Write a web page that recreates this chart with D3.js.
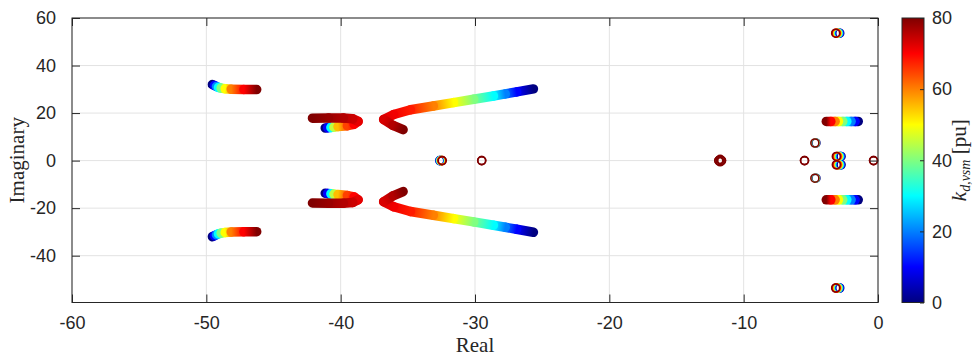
<!DOCTYPE html>
<html><head><meta charset="utf-8">
<script src="https://cdn.jsdelivr.net/npm/d3@7"></script>
<style>
html,body{margin:0;padding:0;background:#fff;}
svg{display:block;}
.tick text,.cbar text{font-family:"Liberation Sans",Arial,sans-serif;font-size:18px;fill:#262626;}
.lbl{font-family:"Liberation Serif","Times New Roman",serif;font-size:21px;fill:#262626;}
</style></head><body>
<svg id="chart" width="975" height="361"></svg>
<script>
// axis ticks
const xTicks = [-60, -50, -40, -30, -20, -10, 0];
const yTicks = [-40, -20, 0, 20, 40, 60];
const kTicks = [0, 20, 40, 60, 80];

// root-locus branches in the upper half-plane: [k, real, imag]
const branchFar = [
  [0, -49.55, 32.0], [10, -49.4, 31.6], [20, -49.25, 31.2], [30, -49.1, 30.8],
  [40, -48.9, 30.5], [50, -48.6, 30.25], [60, -48.15, 30.05], [70, -47.2, 29.95], [80, -46.25, 29.9]
];
const branchLoop = [
  [0, -41.15, 13.75], [10, -40.97, 13.8], [30, -40.73, 13.95], [45, -40.5, 14.1],
  [55, -40.2, 14.3], [65, -39.5, 14.7], [70, -39.0, 15.3], [72, -38.7, 16.5],
  [74, -39.1, 17.6], [76, -39.8, 17.9], [78, -40.9, 17.9], [80, -42.1, 17.85]
];
const branchLong = [
  [0, -25.65, 30.15], [10, -26.9, 28.9], [20, -27.75, 28.05], [30, -28.63, 27.2],
  [40, -30.1, 25.8], [50, -31.6, 24.4], [60, -33.1, 23.0], [68, -34.8, 21.4],
  [71, -36.05, 19.4], [73, -36.8, 17.3], [76, -36.1, 14.8], [80, -35.35, 13.0]
];
const branchNear = [
  [0, -1.47, 16.5], [10, -1.7, 16.5], [20, -2.0, 16.5], [30, -2.32, 16.5], [40, -2.62, 16.5],
  [50, -2.94, 16.5], [60, -3.19, 16.5], [70, -3.51, 16.5], [80, -3.85, 16.5]
];

// slowly moving poles, one marker per gain step: [k, real, imag]
const polesHigh = [
  [0, -2.85, 53.6], [10, -2.89, 53.6], [20, -2.93, 53.6], [30, -2.97, 53.6], [40, -3.0, 53.6],
  [50, -3.04, 53.6], [60, -3.08, 53.6], [70, -3.12, 53.6], [80, -3.15, 53.6]
];
const polesLow = [
  [0, -2.75, 1.75], [10, -2.8, 1.75], [20, -2.84, 1.75], [30, -2.88, 1.75], [40, -2.93, 1.75],
  [50, -2.97, 1.75], [60, -3.01, 1.75], [70, -3.06, 1.75], [80, -3.1, 1.75]
];
const polesReal = [
  [0, -32.62, 0], [10, -32.6, 0], [20, -32.58, 0], [30, -32.55, 0], [40, -32.53, 0],
  [50, -32.5, 0], [60, -32.48, 0], [70, -32.46, 0], [80, -32.44, 0]
];
const polesSide = [
  [0, -4.62, 7.4], [40, -4.66, 7.4], [80, -4.7, 7.4]
];
// poles that do not move over the gain range: [real, imag]
const polesFixed = [
  [-29.5, 0], [-11.85, 0], [-11.65, 0], [-11.75, 0.5], [-5.47, 0], [-0.33, 0]
];

const kMax = 80;
const m = {left: 72, right: 878, top: 18, bottom: 302.5};
const cb = {x0: 902, x1: 924};

const svg = d3.select("#chart");
const x = d3.scaleLinear().domain([-60, 0]).range([m.left, m.right]);
const y = d3.scaleLinear().domain([-59.7, 60]).range([m.bottom, m.top]);
const kScale = d3.scaleLinear().domain([0, kMax]).range([m.bottom, m.top]);
const fmt = d => String(d);

// MATLAB-style jet colormap
function jet(k) {
  const t = Math.max(0, Math.min(1, k / kMax));
  const c = v => Math.round(255 * Math.max(0, Math.min(1, v)));
  return `rgb(${c(1.5 - Math.abs(4 * t - 3))},${c(1.5 - Math.abs(4 * t - 2))},${c(1.5 - Math.abs(4 * t - 1))})`;
}

const axisColor = "#262626", gridColor = "#e3e3e3";
const tickLen = 8;

// grid
const grid = svg.append("g");
grid.selectAll(".gx").data(xTicks).join("line")
  .attr("x1", d => x(d)).attr("x2", d => x(d)).attr("y1", m.top).attr("y2", m.bottom)
  .attr("stroke", gridColor).attr("stroke-width", 1);
grid.selectAll(".gy").data(yTicks).join("line")
  .attr("x1", m.left).attr("x2", m.right).attr("y1", d => y(d)).attr("y2", d => y(d))
  .attr("stroke", gridColor).attr("stroke-width", 1);

const defs = svg.append("defs");
const marks = svg.append("g");

// conjugate pairs: every pole above the real axis has its mirror image
function withConjugates(rows, imIdx) {
  const out = [rows];
  if (rows.some(r => r[imIdx] !== 0)) out.push(rows.map(r => { const c = r.slice(); c[imIdx] = -c[imIdx]; return c; }));
  return out;
}

let gid = 0;
function drawBranch(rows) {
  const g = marks.append("g");
  for (let i = 0; i < rows.length - 1; i++) {
    const a = rows[i], b = rows[i + 1];
    const id = "seg" + (gid++);
    const lg = defs.append("linearGradient").attr("id", id).attr("gradientUnits", "userSpaceOnUse")
      .attr("x1", x(a[1])).attr("y1", y(a[2])).attr("x2", x(b[1])).attr("y2", y(b[2]));
    lg.append("stop").attr("offset", 0).attr("stop-color", jet(a[0]));
    lg.append("stop").attr("offset", 1).attr("stop-color", jet(b[0]));
    g.append("line")
      .attr("x1", x(a[1])).attr("y1", y(a[2])).attr("x2", x(b[1])).attr("y2", y(b[2]))
      .attr("stroke", `url(#${id})`).attr("stroke-width", 9.5).attr("stroke-linecap", "round");
  }
}
function drawRings(rows) {
  marks.append("g").selectAll("circle").data(rows).join("circle")
    .attr("cx", d => x(d[1])).attr("cy", d => y(d[2])).attr("r", 4)
    .attr("fill", "none").attr("stroke", d => jet(d[0])).attr("stroke-width", 1.6);
}

[branchFar, branchLoop, branchLong, branchNear].forEach(b => withConjugates(b, 2).forEach(drawBranch));
[polesHigh, polesLow, polesReal, polesSide].forEach(p => withConjugates(p, 2).forEach(drawRings));
withConjugates(polesFixed, 1).forEach(rows =>
  marks.append("g").selectAll("circle").data(rows).join("circle")
    .attr("cx", d => x(d[0])).attr("cy", d => y(d[1])).attr("r", 4)
    .attr("fill", "none").attr("stroke", jet(kMax)).attr("stroke-width", 1.6));

// axes (box with inward ticks on all four sides)
function styleAxis(g) {
  g.select(".domain").remove();
  g.selectAll(".tick line").attr("stroke", axisColor);
}
svg.append("g").attr("transform", `translate(0,${m.bottom})`)
  .call(d3.axisBottom(x).tickValues(xTicks).tickFormat(fmt).tickSizeInner(-tickLen).tickSizeOuter(0).tickPadding(14))
  .call(styleAxis);
svg.append("g").attr("transform", `translate(0,${m.top})`)
  .call(d3.axisTop(x).tickValues(xTicks).tickFormat("").tickSizeInner(-tickLen).tickSizeOuter(0))
  .call(styleAxis);
svg.append("g").attr("transform", `translate(${m.left},0)`)
  .call(d3.axisLeft(y).tickValues(yTicks).tickFormat(fmt).tickSizeInner(-tickLen).tickSizeOuter(0).tickPadding(16))
  .call(styleAxis);
svg.append("g").attr("transform", `translate(${m.right},0)`)
  .call(d3.axisRight(y).tickValues(yTicks).tickFormat("").tickSizeInner(-tickLen).tickSizeOuter(0))
  .call(styleAxis);
svg.append("rect").attr("x", m.left).attr("y", m.top).attr("width", m.right - m.left).attr("height", m.bottom - m.top)
  .attr("fill", "none").attr("stroke", axisColor).attr("stroke-width", 1);
svg.selectAll(".tick text").attr("fill", axisColor).style("font-size", "18px").attr("font-family", null);

svg.append("text").attr("class", "lbl").attr("x", (m.left + m.right) / 2).attr("y", 352)
  .attr("text-anchor", "middle").text("Real");
svg.append("text").attr("class", "lbl").attr("transform", `translate(24,${(m.top + m.bottom) / 2}) rotate(-90)`)
  .attr("text-anchor", "middle").text("Imaginary");

// colorbar
const cg = defs.append("linearGradient").attr("id", "jetbar").attr("x1", 0).attr("y1", 1).attr("x2", 0).attr("y2", 0);
d3.range(0, 81, 2).forEach(k => cg.append("stop").attr("offset", k / kMax).attr("stop-color", jet(k)));
const cbar = svg.append("g").attr("class", "cbar");
cbar.append("rect").attr("x", cb.x0).attr("y", m.top).attr("width", cb.x1 - cb.x0).attr("height", m.bottom - m.top)
  .attr("fill", "url(#jetbar)");
const cax = cbar.append("g").attr("transform", `translate(${cb.x1},0)`)
  .call(d3.axisRight(kScale).tickValues(kTicks).tickFormat(fmt).tickSizeInner(-4).tickSizeOuter(0).tickPadding(8));
cax.select(".domain").remove();
cax.selectAll(".tick line").attr("stroke", axisColor);
cax.selectAll(".tick text").attr("fill", axisColor).style("font-size", "18px").attr("font-family", null);
cbar.append("rect").attr("x", cb.x0).attr("y", m.top).attr("width", cb.x1 - cb.x0).attr("height", m.bottom - m.top)
  .attr("fill", "none").attr("stroke", axisColor).attr("stroke-width", 1);

const cl = svg.append("text").attr("class", "lbl")
  .attr("transform", `translate(966,${(m.top + m.bottom) / 2}) rotate(-90)`).attr("text-anchor", "middle");
cl.append("tspan").style("font-style", "italic").text("k");
cl.append("tspan").attr("dy", 4).style("font-size", "14px").style("font-style", "italic").text("d,vsm");
cl.append("tspan").attr("dy", -4).text(" [pu]");
</script>
</body></html>
